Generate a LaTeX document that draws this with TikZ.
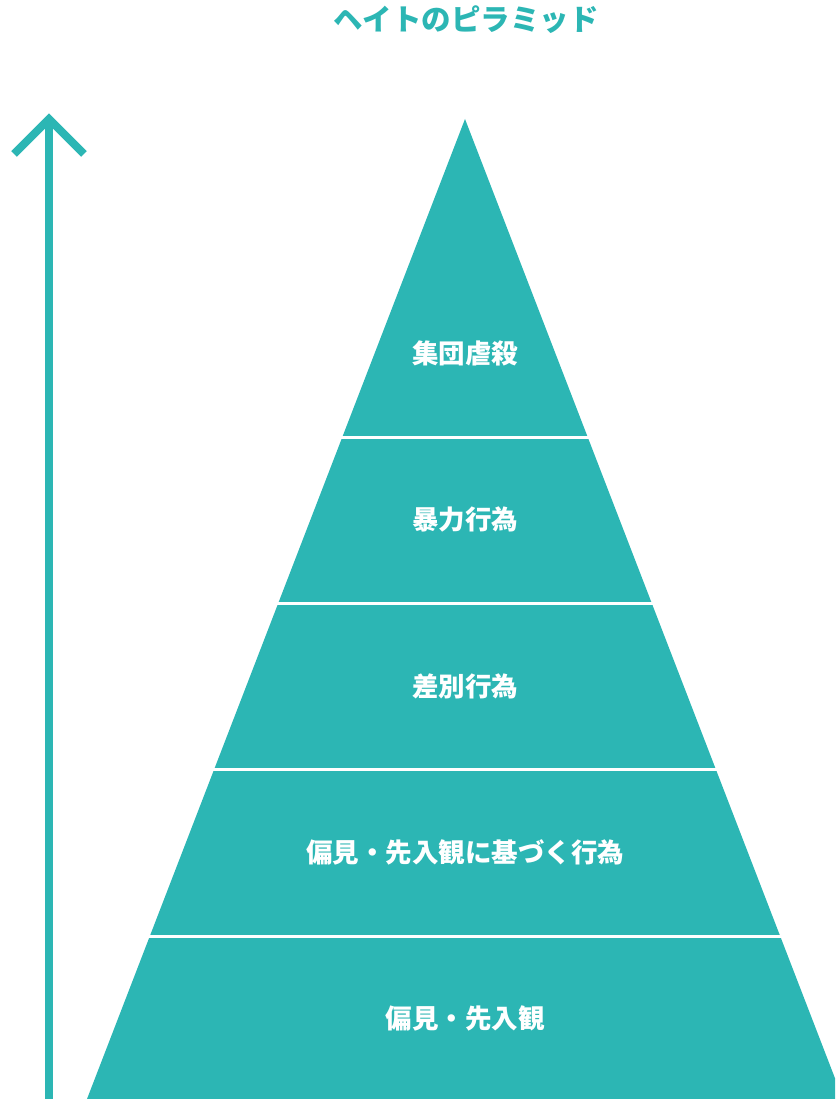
\documentclass[tikz,border=0pt]{standalone}
\usepackage{fontspec}
\newfontfamily\cjk{Noto Sans CJK JP}
\definecolor{teal1}{RGB}{44,182,180}
\begin{document}
\begin{tikzpicture}[x=1pt,y=-1pt,
  lbl/.style={text=white,font=\cjk\bfseries\fontsize{26.5}{30}\selectfont,inner sep=0pt},
  sep/.style={draw=white,line width=3pt},
  arr/.style={draw=teal1,line width=8pt}]
\useasboundingbox (0,0) rectangle (835,1099);
\begin{scope}
\clip (0,0) rectangle (835,1099);
\fill[teal1] (465,119) -- (843,1099) -- (87,1099) -- cycle;
\foreach \yy in {437,603.5,769.5,936} \draw[sep] (60,\yy) -- (835,\yy);
\end{scope}
\node[lbl] (l1) at (465,353) {集団虐殺};
\node[lbl] (l2) at (465,519) {暴力行為};
\node[lbl] (l3) at (465,686) {差別行為};
\node[lbl] (l4) at (465,852) {偏見・先入観に基づく行為};
\node[lbl] (l5) at (465,1018) {偏見・先入観};
\node[text=teal1,font=\cjk\bfseries\fontsize{29.5}{34}\selectfont,inner sep=0pt] (title) at (466,20) {ヘイトのピラミッド};
\coordinate (abot) at (49,1099);
\coordinate (atop) at (49,121);
\draw[arr] (abot) -- (atop);
\draw[arr,line join=miter] (14,154) -- (49,119) -- (84,154);
\end{tikzpicture}
\end{document}
